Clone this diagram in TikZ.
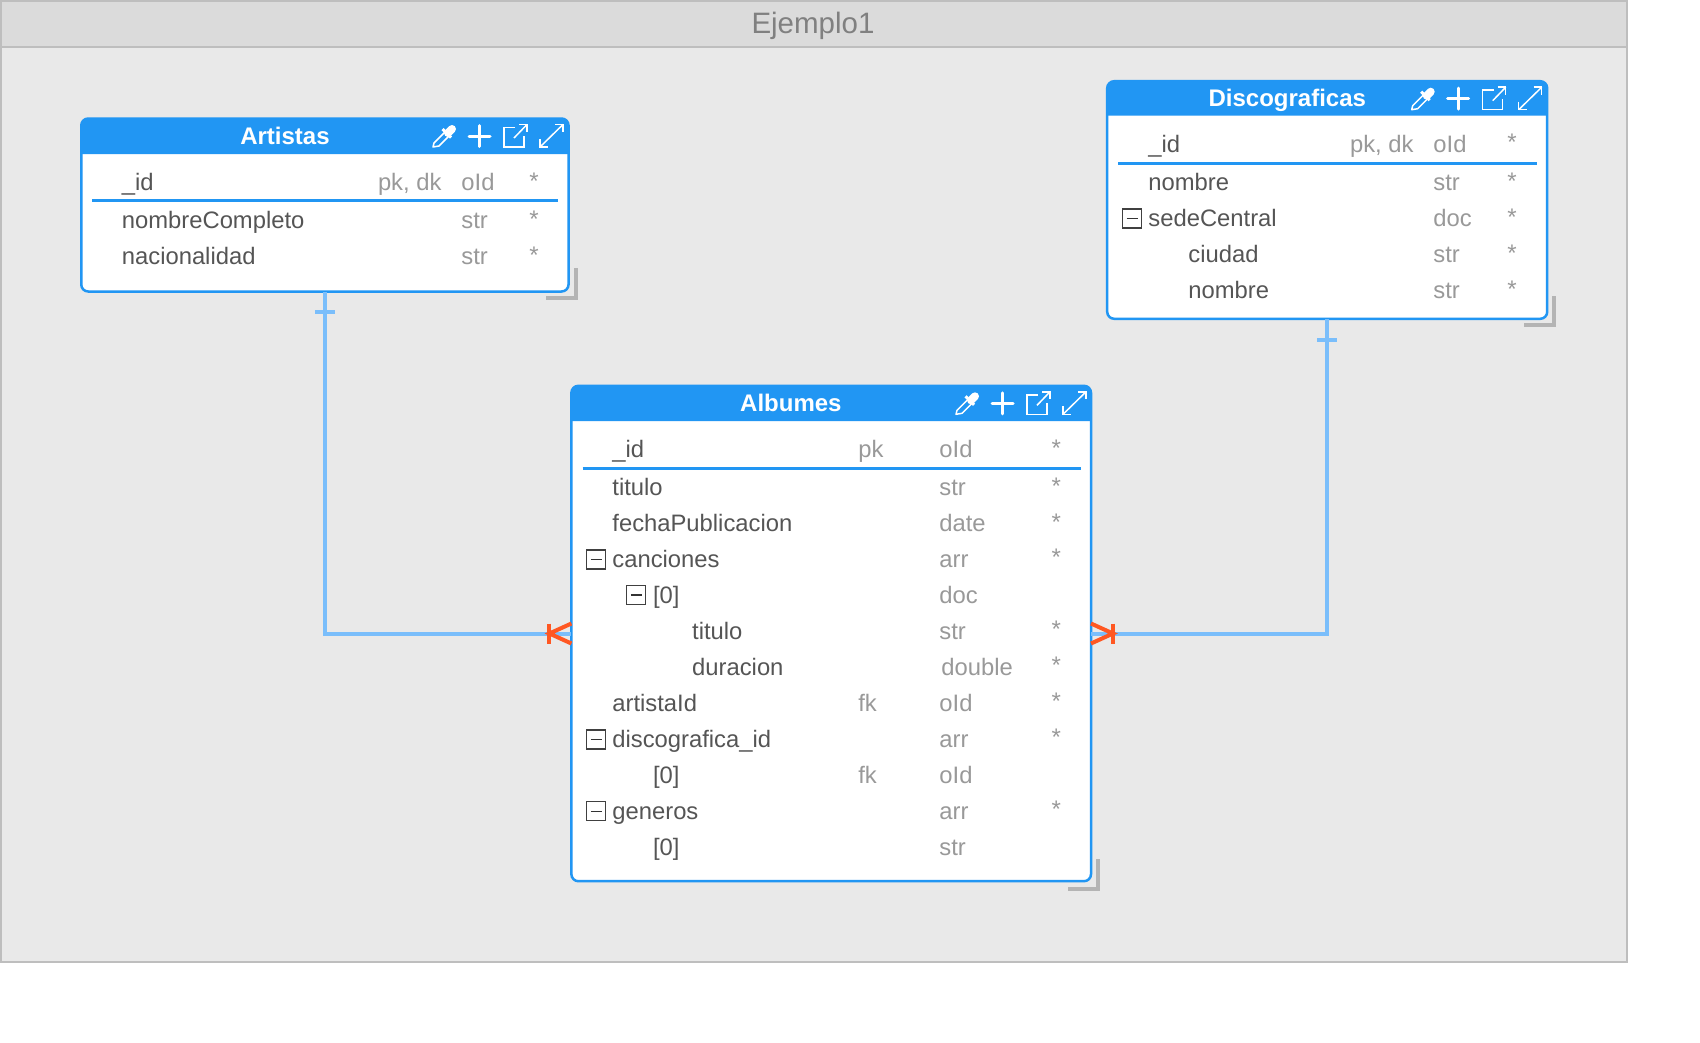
\documentclass[tikz,border=0pt]{standalone}
\usepackage{fontspec}
\setmainfont{Liberation Sans}
\definecolor{frameline}{HTML}{BEBEBE}
\definecolor{framefill}{HTML}{E9E9E9}
\definecolor{framehead}{HTML}{DBDBDB}
\definecolor{framegray}{HTML}{808080}
\definecolor{tblblue}{HTML}{2196F3}
\definecolor{relblue}{HTML}{7ABEFB}
\definecolor{relorange}{HTML}{FF5722}
\definecolor{namegray}{HTML}{555555}
\definecolor{typegray}{HTML}{999999}
\definecolor{gripgray}{HTML}{B4B4B4}
\tikzset{
  tblbox/.style={draw=tblblue,fill=white,line width=2.5pt,rounded corners=7pt,inner sep=0pt,outer sep=0pt},
  tblhead/.style={fill=tblblue,rounded corners=7pt},
  tbltitle/.style={anchor=base,inner sep=0pt,yshift=-1pt,white,font=\fontsize{24}{28}\selectfont\bfseries},
  fldname/.style={anchor=base west,inner sep=0pt,xshift=-0.8pt,yshift=-0.6pt,namegray,font=\fontsize{23.8}{28}\selectfont},
  fldtype/.style={anchor=base west,inner sep=0pt,xshift=-0.8pt,yshift=-0.6pt,typegray,font=\fontsize{23.8}{28}\selectfont},
  fldstar/.style={anchor=base,inner sep=0pt,yshift=1pt,typegray,font=\fontsize{24}{28}\selectfont},
  pkline/.style={tblblue,line width=2.5pt},
  relline/.style={relblue,line width=4pt},
  crowline/.style={relorange,line width=4pt},
  gripline/.style={gripgray,line width=4pt},
  iconline/.style={white,line width=1.5pt},
  foldbox/.style={draw=black!75,line width=1.3pt,fill=white}
}
% header icons, origin at the top right corner of the table
\newcommand{\tblicons}[1]{
  \begin{scope}[shift={#1}]
    \draw[iconline,line join=round] (-136,29) -- (-135,25) -- (-124,14) -- (-120,18) -- (-130,28) -- cycle;
    \draw[white,line width=8pt,line cap=round] (-121,15) -- (-117,11);
    \draw[white,line width=3pt] (-126.5,11) -- (-118,19.5);
    \draw[white,line width=3pt,line cap=round] (-100,18) -- (-79,18);
    \draw[white,line width=3pt,line cap=round] (-89.5,7.5) -- (-89.5,28.5);
    \draw[iconline] (-54,9.5) -- (-65,9.5) -- (-65,29) -- (-45,29) -- (-45,18);
    \draw[iconline] (-55,20) -- (-42,6.5);
    \draw[iconline] (-50,6.5) -- (-42,6.5) -- (-42,14);
    \draw[iconline] (-29,29) -- (-6,6.5);
    \draw[iconline] (-14,6.5) -- (-6,6.5) -- (-6,14);
    \draw[iconline] (-29,21) -- (-29,29) -- (-21,29);
  \end{scope}
}
% minus mark in front of a nested field
\newcommand{\foldmark}[2]{
  \draw[foldbox] (#1,#2) rectangle ++(19,19);
  \draw[black!80,line width=1.2pt] (#1+4,#2+9.5) -- (#1+15,#2+9.5);
}

\begin{document}
\begin{tikzpicture}[x=1pt,y=-1pt]
\useasboundingbox (0,0) rectangle (1700,1042);

% outer frame
\filldraw[fill=framefill,draw=frameline,line width=2pt] (1,1) rectangle (1627,961.5);
\filldraw[fill=framehead,draw=frameline,line width=2pt] (1,1) rectangle (1627,47);
\node[anchor=base,inner sep=0pt,framegray,font=\fontsize{29.5}{32}\selectfont] (frametitle) at (813,33.3) {Ejemplo1};

% tables
\node[tblbox,minimum width=487.3pt,minimum height=173pt] (artistas) at (324.9,205) {};
\node[tblbox,minimum width=440pt,minimum height=237.6pt] (discograficas) at (1327.2,200) {};
\node[tblbox,minimum width=519.6pt,minimum height=495.4pt] (albumes) at (831.2,633.5) {};

% relations
\draw[relline] (artistas.south) |- (albumes.west);
\draw[relline] (discograficas.south) |- (albumes.east);
\draw[relline] ([shift={(-10pt,-20pt)}]artistas.south) -- ([shift={(10pt,-20pt)}]artistas.south);
\draw[relline] ([shift={(-10pt,-21pt)}]discograficas.south) -- ([shift={(10pt,-21pt)}]discograficas.south);
\draw[crowline] ([shift={(-22pt,10pt)}]albumes.west) -- ([shift={(-22pt,-10pt)}]albumes.west);
\draw[crowline] ([yshift=10pt]albumes.west) -- ([xshift=-22pt]albumes.west) -- ([yshift=-10pt]albumes.west);
\draw[crowline] ([shift={(22pt,10pt)}]albumes.east) -- ([shift={(22pt,-10pt)}]albumes.east);
\draw[crowline] ([yshift=10pt]albumes.east) -- ([xshift=22pt]albumes.east) -- ([yshift=-10pt]albumes.east);

% resize grips
\draw[gripline] (546,298) -- (576,298) -- (576,268);
\draw[gripline] (1524,325) -- (1554,325) -- (1554,296);
\draw[gripline] (1068,889) -- (1098,889) -- (1098,859);

% Artistas
\fill[tblhead] (81.2,154) -- (81.2,118.5) -- (568.6,118.5) [sharp corners] -- (568.6,154) -- cycle;
\tblicons{(569,118)}
\node[tbltitle] (artTitle) at (285,143.3) {Artistas};
\node[fldname] (artId) at (122.5,190) {\_id};
\node[fldtype] (artIdKey) at (378.6,190) {pk, dk};
\node[fldtype] (artIdType) at (462,190) {oId};
\node[fldstar] (artIdStar) at (534,190) {*};
\draw[pkline] (92,200.7) -- (557.5,200.7);
\node[fldname] (artNombre) at (122.5,228) {nombreCompleto};
\node[fldtype] (artNombreType) at (462,228) {str};
\node[fldstar] (artNombreStar) at (534,228) {*};
\node[fldname] (artNacion) at (122.5,264) {nacionalidad};
\node[fldtype] (artNacionType) at (462,264) {str};
\node[fldstar] (artNacionStar) at (534,264) {*};

% Discograficas
\fill[tblhead] (1107.2,115.7) -- (1107.2,81.2) -- (1547.2,81.2) [sharp corners] -- (1547.2,115.7) -- cycle;
\tblicons{(1547.7,80.7)}
\node[tbltitle] (disTitle) at (1287.3,105.7) {Discograficas};
\node[fldname] (disId) at (1149,151.7) {\_id};
\node[fldtype] (disIdKey) at (1350.7,151.7) {pk, dk};
\node[fldtype] (disIdType) at (1434,151.7) {oId};
\node[fldstar] (disIdStar) at (1512,151.7) {*};
\draw[pkline] (1118.3,163.3) -- (1536.7,163.3);
\node[fldname] (disNombre) at (1149,190) {nombre};
\node[fldtype] (disNombreType) at (1434,190) {str};
\node[fldstar] (disNombreStar) at (1512,190) {*};
\foldmark{1122.7}{209}
\node[fldname] (disSede) at (1149,226) {sedeCentral};
\node[fldtype] (disSedeType) at (1434,226) {doc};
\node[fldstar] (disSedeStar) at (1512,226) {*};
\node[fldname] (disCiudad) at (1189,262.3) {ciudad};
\node[fldtype] (disCiudadType) at (1434,262.3) {str};
\node[fldstar] (disCiudadStar) at (1512,262.3) {*};
\node[fldname] (disSedeNombre) at (1189,298.3) {nombre};
\node[fldtype] (disSedeNombreType) at (1434,298.3) {str};
\node[fldstar] (disSedeNombreStar) at (1512,298.3) {*};

% Albumes
\fill[tblhead] (571.9,421) -- (571.9,385.8) -- (1091,385.8) [sharp corners] -- (1091,421) -- cycle;
\tblicons{(1092,385.3)}
\node[tbltitle] (albTitle) at (790.9,410.7) {Albumes};
\node[fldname] (albId) at (613,457.3) {\_id};
\node[fldtype] (albIdKey) at (858.9,457.3) {pk};
\node[fldtype] (albIdType) at (940,457.3) {oId};
\node[fldstar] (albIdStar) at (1056.2,457.3) {*};
\draw[pkline] (582.5,468.3) -- (1080.7,468.3);
\node[fldname] (albTitulo) at (613,495) {titulo};
\node[fldtype] (albTituloType) at (940,495) {str};
\node[fldstar] (albTituloStar) at (1056.2,495) {*};
\node[fldname] (albFecha) at (613,531) {fechaPublicacion};
\node[fldtype] (albFechaType) at (940,531) {date};
\node[fldstar] (albFechaStar) at (1056.2,531) {*};
\foldmark{586.8}{550}
\node[fldname] (albCanciones) at (613,566.7) {canciones};
\node[fldtype] (albCancionesType) at (940,566.7) {arr};
\node[fldstar] (albCancionesStar) at (1056.2,566.7) {*};
\foldmark{626.8}{585.5}
\node[fldname] (albCan0) at (653.6,602.7) {[0]};
\node[fldtype] (albCan0Type) at (940,602.7) {doc};
\node[fldname] (albCanTitulo) at (692.8,638.7) {titulo};
\node[fldtype] (albCanTituloType) at (940,638.7) {str};
\node[fldstar] (albCanTituloStar) at (1056.2,638.7) {*};
\node[fldname] (albDuracion) at (692.8,674.7) {duracion};
\node[fldtype] (albDuracionType) at (942,674.7) {double};
\node[fldstar] (albDuracionStar) at (1056.2,674.7) {*};
\node[fldname] (albArtista) at (613,710.7) {artistaId};
\node[fldtype] (albArtistaKey) at (858.9,710.7) {fk};
\node[fldtype] (albArtistaType) at (940,710.7) {oId};
\node[fldstar] (albArtistaStar) at (1056.2,710.7) {*};
\foldmark{586.8}{730}
\node[fldname] (albDisco) at (613,746.7) {discografica\_id};
\node[fldtype] (albDiscoType) at (940,746.7) {arr};
\node[fldstar] (albDiscoStar) at (1056.2,746.7) {*};
\node[fldname] (albDisco0) at (653.6,782.7) {[0]};
\node[fldtype] (albDisco0Key) at (858.9,782.7) {fk};
\node[fldtype] (albDisco0Type) at (940,782.7) {oId};
\foldmark{586.8}{801.7}
\node[fldname] (albGeneros) at (613,818.7) {generos};
\node[fldtype] (albGenerosType) at (940,818.7) {arr};
\node[fldstar] (albGenerosStar) at (1056.2,818.7) {*};
\node[fldname] (albGen0) at (653.6,854.7) {[0]};
\node[fldtype] (albGen0Type) at (940,854.7) {str};
\end{tikzpicture}
\end{document}
